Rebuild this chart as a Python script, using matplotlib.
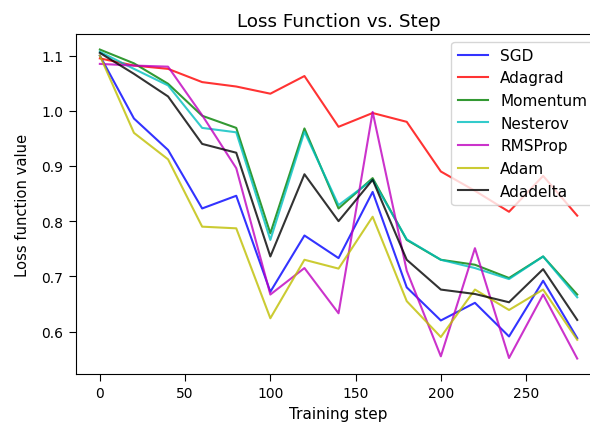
import numpy as np
import matplotlib
matplotlib.use("Agg")
import matplotlib.pyplot as plt

# Training steps
steps = np.arange(0, 300, 20)

# Loss values per optimizer
sgd = [1.100, 0.986, 0.929, 0.823, 0.846, 0.672, 0.774, 0.733, 0.853, 0.680, 0.620, 0.652, 0.591, 0.692, 0.588]
adagrad = [1.095, 1.082, 1.076, 1.052, 1.044, 1.031, 1.063, 0.971, 0.996, 0.980, 0.890, 0.855, 0.817, 0.882, 0.810]
momentum = [1.111, 1.086, 1.049, 0.991, 0.969, 0.778, 0.968, 0.823, 0.878, 0.766, 0.730, 0.721, 0.697, 0.736, 0.667]
nesterov = [1.107, 1.076, 1.046, 0.969, 0.961, 0.766, 0.962, 0.829, 0.875, 0.767, 0.730, 0.715, 0.695, 0.736, 0.662]
rmsprop = [1.085, 1.082, 1.080, 0.992, 0.896, 0.667, 0.715, 0.633, 0.998, 0.710, 0.555, 0.751, 0.552, 0.667, 0.551]
adam = [1.100, 0.960, 0.912, 0.790, 0.787, 0.624, 0.730, 0.714, 0.808, 0.655, 0.590, 0.676, 0.639, 0.676, 0.585]
adadelta = [1.105, 1.067, 1.026, 0.940, 0.924, 0.736, 0.885, 0.800, 0.875, 0.730, 0.676, 0.668, 0.653, 0.713, 0.621]

names = ["SGD", "Adagrad", "Momentum", "Nesterov", "RMSProp", "Adam", "Adadelta"]
series = [sgd, adagrad, momentum, nesterov, rmsprop, adam, adadelta]
colors = ["b", "r", "g", "c", "m", "y", "k"]

fig = plt.figure(figsize=(5.9, 4.27), dpi=100)
# right spine runs just past the image edge, as in the cropped original
ax = fig.add_axes([0.1288, 0.1218, 0.890, 0.796])

for name, vals, col in zip(names, series, colors):
    ax.plot(steps, vals, color=col, alpha=0.8, linewidth=1.5, label=name)

ax.set_title("Loss Function vs. Step", fontsize=13.2)
ax.set_xlabel("Training step", fontsize=11)
ax.set_ylabel("Loss function value", fontsize=10.6, labelpad=8)
ax.tick_params(length=5, pad=4)
ax.legend(loc="upper right", fontsize=11)

fig.savefig("out.png", dpi=100)
